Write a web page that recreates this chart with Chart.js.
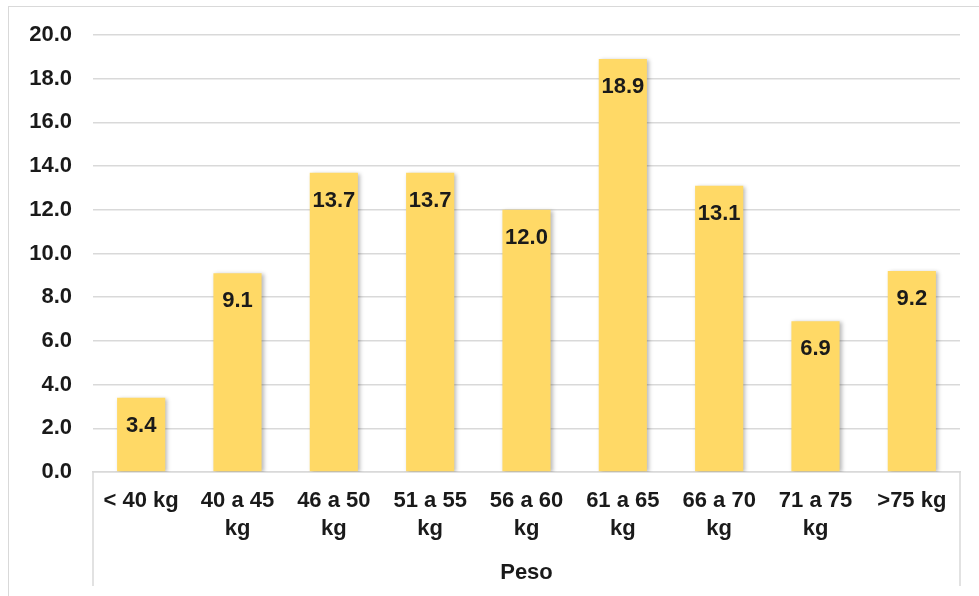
<!DOCTYPE html>
<html>
<head>
<meta charset="utf-8">
<script src="https://cdn.jsdelivr.net/npm/chart.js@4/dist/chart.umd.min.js"></script>
<style>
  html, body { margin: 0; padding: 0; background: #fff; overflow: hidden; }
  #wrap { position: relative; width: 979px; height: 596px; }
  #frame { position: absolute; left: 8px; top: 6px; width: 1000px; height: 1000px; border: 1.5px solid #d9d9d9; box-sizing: border-box; }
  canvas { position: absolute; left: 0; top: 0; }
</style>
</head>
<body>
<div id="wrap">
  <div id="frame"></div>
  <canvas id="pesoChart" width="979" height="596"></canvas>
</div>
<script>
// Weight groups and share of each group
var pesoLabels = [['< 40 kg'], ['40 a 45', 'kg'], ['46 a 50', 'kg'], ['51 a 55', 'kg'], ['56 a 60', 'kg'],
                  ['61 a 65', 'kg'], ['66 a 70', 'kg'], ['71 a 75', 'kg'], ['>75 kg']];
var pesoValues = [3.4, 9.1, 13.7, 13.7, 12.0, 18.9, 13.1, 6.9, 9.2];
var axisTitle = 'Peso';

var FONT = '"Liberation Sans", Arial, sans-serif';
var FONT_SIZE = 22;

// Soft shadow behind the bars
var barShadow = {
    id: 'barShadow',
    beforeDatasetsDraw: function (chart) {
        var ctx = chart.ctx;
        ctx.save();
        ctx.shadowColor = 'rgba(0,0,0,0.28)';
        ctx.shadowBlur = 4;
        ctx.shadowOffsetX = 2;
        ctx.shadowOffsetY = 1;
    },
    afterDatasetsDraw: function (chart) {
        chart.ctx.restore();
    }
};

// Value labels inside the top of each bar
var valueLabels = {
    id: 'valueLabels',
    afterDatasetsDraw: function (chart) {
        var ctx = chart.ctx;
        var meta = chart.getDatasetMeta(0);
        ctx.save();
        ctx.font = 'bold ' + FONT_SIZE + 'px ' + FONT;
        ctx.fillStyle = '#1a1a1a';
        ctx.textAlign = 'center';
        ctx.textBaseline = 'middle';
        meta.data.forEach(function (bar, i) {
            ctx.fillText(pesoValues[i].toFixed(1), bar.x, bar.y + 28);
        });
        ctx.restore();
    }
};

// Side lines of the grouped category axis
var groupLines = {
    id: 'groupLines',
    afterDraw: function (chart) {
        var ctx = chart.ctx;
        var a = chart.chartArea;
        ctx.save();
        ctx.strokeStyle = '#d9d9d9';
        ctx.lineWidth = 1.5;
        ctx.beginPath();
        ctx.moveTo(a.left, a.bottom);
        ctx.lineTo(a.left, a.bottom + 114);
        ctx.moveTo(a.right, a.bottom);
        ctx.lineTo(a.right, a.bottom + 114);
        ctx.stroke();
        ctx.restore();
    }
};

var ctx = document.getElementById('pesoChart').getContext('2d');
var pesoChart = new Chart(ctx, {
    type: 'bar',
    data: {
        labels: pesoLabels,
        datasets: [{
            data: pesoValues,
            backgroundColor: '#FFD966',
            borderWidth: 0,
            categoryPercentage: 1.0,
            barPercentage: 0.5
        }]
    },
    options: {
        responsive: false,
        animation: false,
        layout: { padding: { top: 35, right: 19, left: 0, bottom: 0 } },
        plugins: {
            legend: { display: false },
            tooltip: { enabled: false }
        },
        scales: {
            x: {
                grid: { display: false, drawTicks: false },
                border: { color: '#d9d9d9', width: 1.5 },
                ticks: {
                    color: '#1a1a1a',
                    font: { family: FONT, size: FONT_SIZE, weight: 'bold', lineHeight: 1.27 },
                    padding: 15,
                    maxRotation: 0,
                    autoSkip: false
                },
                title: {
                    display: true,
                    text: axisTitle,
                    color: '#1a1a1a',
                    font: { family: FONT, size: FONT_SIZE, weight: 'bold', lineHeight: 1.2 },
                    padding: { top: 0, bottom: 10 }
                },
                afterFit: function (scale) { scale.height = 124; }
            },
            y: {
                min: 0,
                max: 20,
                grid: { color: '#d9d9d9', lineWidth: 1.5, drawTicks: false },
                border: { display: false },
                ticks: {
                    stepSize: 2,
                    color: '#1a1a1a',
                    font: { family: FONT, size: FONT_SIZE, weight: 'bold' },
                    padding: 21,
                    callback: function (value) { return value.toFixed(1); }
                },
                afterFit: function (scale) { scale.width = 93; }
            }
        }
    },
    plugins: [barShadow, valueLabels, groupLines]
});
</script>
</body>
</html>
